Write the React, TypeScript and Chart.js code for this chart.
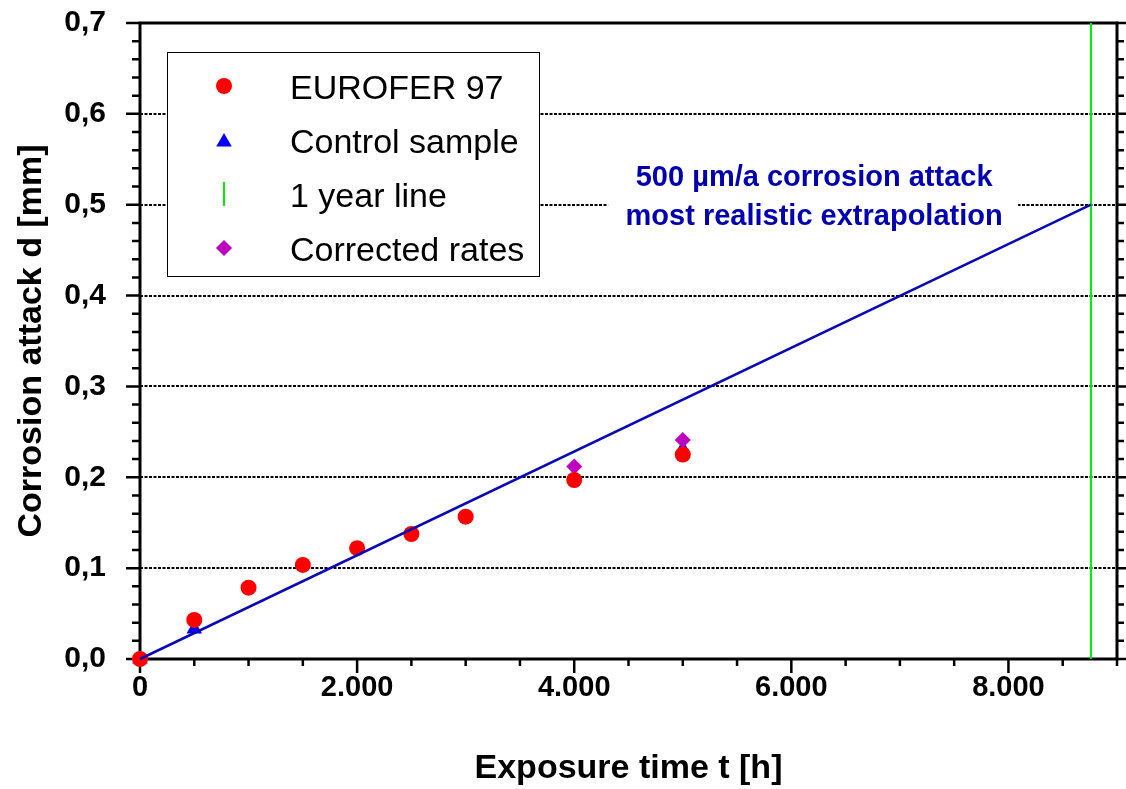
import React, { useEffect, useRef } from 'react';
import { Chart, registerables } from 'chart.js';

Chart.register(...registerables);

// Measured corrosion attack of EUROFER 97 over exposure time
const exposureHours = [0, 500, 1000, 1500, 2000, 2500, 3000, 4000, 5000];
const euroferAttack = [0, 0.043, 0.0785, 0.1035, 0.122, 0.1376, 0.1566, 0.197, 0.225];

// Control sample
const controlHours = [0, 500, 5000];
const controlAttack = [0, 0.033, 0.231];

// Corrected rates
const correctedHours = [4000, 5000];
const correctedAttack = [0.212, 0.241];

// One year of exposure and the 500 µm/a extrapolation reaching 0.5 mm after it
const oneYearHours = 8760;
const extrapolationHours = [0, 8760];
const extrapolationAttack = [0, 0.5];

// Axis ticks
const xTickValues = [0, 2000, 4000, 6000, 8000];
const yTickValues = [0, 0.1, 0.2, 0.3, 0.4, 0.5, 0.6, 0.7];
const yGridValues = [0.1, 0.2, 0.3, 0.4, 0.5, 0.6];
const xMinorStep = 500;
const yMinorStep = 0.02;

const annotationLines = ['500 µm/a corrosion attack', 'most realistic extrapolation'];
const annotationCenterHours = 6210;

const FONT = '"Liberation Sans", Arial, sans-serif';
const LINE_BLUE = '#0a0ab4';
const TEXT_BLUE = '#0000b0';

const toPoints = (xs: number[], ys: number[]) => xs.map((x, i) => ({ x, y: ys[i] }));

const formatThousands = (v: number) =>
  String(Math.round(v)).replace(/\B(?=(\d{3})+(?!\d))/g, '.');

const framePlugin = {
  id: 'frameAndGrid',
  beforeDatasetsDraw(chart: any) {
    const { ctx, chartArea, scales } = chart;
    const { left, right, top, bottom } = chartArea;
    const x = scales.x;
    const y = scales.y;
    ctx.save();

    // dotted horizontal grid
    ctx.strokeStyle = '#000';
    ctx.lineWidth = 2;
    ctx.setLineDash([3, 1.5]);
    yGridValues.forEach((v) => {
      const py = Math.round(y.getPixelForValue(v));
      ctx.beginPath();
      ctx.moveTo(left, py);
      ctx.lineTo(right, py);
      ctx.stroke();
    });
    ctx.setLineDash([]);

    // annotation with white background
    const cx = x.getPixelForValue(annotationCenterHours);
    ctx.fillStyle = '#fff';
    ctx.fillRect(cx - 206, 158, 410, 80);
    ctx.font = `bold 29px ${FONT}`;
    ctx.fillStyle = TEXT_BLUE;
    ctx.textAlign = 'center';
    ctx.textBaseline = 'alphabetic';
    ctx.fillText(annotationLines[0], cx, 186);
    ctx.fillText(annotationLines[1], cx, 225);

    // frame
    ctx.strokeStyle = '#000';
    ctx.lineWidth = 3;
    ctx.beginPath();
    ctx.moveTo(left, top);
    ctx.lineTo(right, top);
    ctx.lineTo(right, bottom);
    ctx.lineTo(left, bottom);
    ctx.closePath();
    ctx.stroke();

    // ticks
    ctx.lineWidth = 2.5;
    ctx.beginPath();
    const xMax = x.max;
    for (let v = 0; v <= xMax + 1e-6; v += xMinorStep) {
      const px = x.getPixelForValue(v);
      const major = xTickValues.includes(v);
      ctx.moveTo(px, bottom);
      ctx.lineTo(px, bottom + (major ? 14 : 7));
    }
    const steps = Math.round(y.max / yMinorStep);
    for (let i = 0; i <= steps; i++) {
      const v = i * yMinorStep;
      const py = y.getPixelForValue(v);
      const major = i % 5 === 0;
      ctx.moveTo(left, py);
      ctx.lineTo(left - (major ? 14 : 8), py);
      ctx.moveTo(right, py);
      ctx.lineTo(right + (major ? 10 : 7), py);
    }
    ctx.stroke();
    ctx.restore();
  },
  afterDraw(chart: any) {
    const { ctx } = chart;
    ctx.save();
    // legend box
    const bx = 167, by = 52, bw = 372, bh = 224;
    ctx.fillStyle = '#fff';
    ctx.fillRect(bx, by, bw, bh);
    ctx.strokeStyle = '#000';
    ctx.lineWidth = 1;
    ctx.strokeRect(bx + 0.5, by + 0.5, bw, bh);

    const entries = chart.data.datasets
      .filter((d: any) => d.legendOrder !== undefined)
      .sort((a: any, b: any) => a.legendOrder - b.legendOrder);
    const markerX = 224;
    const textX = 290;
    const baselines = [99, 153, 207, 261];
    ctx.font = `34px ${FONT}`;
    ctx.textAlign = 'left';
    ctx.textBaseline = 'alphabetic';
    entries.forEach((d: any, i: number) => {
      const base = baselines[i];
      const my = base - 13;
      if (d.legendMarker === 'vline') {
        ctx.strokeStyle = d.borderColor;
        ctx.lineWidth = 2;
        ctx.beginPath();
        ctx.moveTo(markerX, my - 12);
        ctx.lineTo(markerX, my + 12);
        ctx.stroke();
      } else {
        ctx.fillStyle = d.pointBackgroundColor;
        const r = d.pointRadius;
        ctx.beginPath();
        if (d.pointStyle === 'circle') {
          ctx.arc(markerX, my, r, 0, Math.PI * 2);
        } else if (d.pointStyle === 'triangle') {
          const cy = my + 2;
          ctx.moveTo(markerX, cy - r);
          ctx.lineTo(markerX + r * Math.sin((2 * Math.PI) / 3), cy - r * Math.cos((2 * Math.PI) / 3));
          ctx.lineTo(markerX + r * Math.sin((4 * Math.PI) / 3), cy - r * Math.cos((4 * Math.PI) / 3));
          ctx.closePath();
        } else if (d.pointStyle === 'rectRot') {
          ctx.moveTo(markerX - r, my);
          ctx.lineTo(markerX, my - r);
          ctx.lineTo(markerX + r, my);
          ctx.lineTo(markerX, my + r);
          ctx.closePath();
        }
        ctx.fill();
      }
      ctx.fillStyle = '#000';
      ctx.fillText(d.label, textX, base);
    });
    ctx.restore();
  },
};

export default function App() {
  const canvasRef = useRef<HTMLCanvasElement | null>(null);

  useEffect(() => {
    const canvas = canvasRef.current;
    if (!canvas) return;
    const chart = new Chart(canvas, {
      type: 'scatter',
      data: {
        datasets: [
          {
            label: 'extrapolation',
            type: 'line',
            data: toPoints(extrapolationHours, extrapolationAttack),
            borderColor: LINE_BLUE,
            borderWidth: 2.5,
            pointRadius: 0,
            showLine: true,
            clip: false,
            order: 0,
          } as any,
          {
            label: 'EUROFER 97',
            data: toPoints(exposureHours, euroferAttack),
            pointStyle: 'circle',
            pointRadius: 8,
            pointBackgroundColor: '#ff0000',
            pointBorderWidth: 0,
            borderColor: '#ff0000',
            clip: false,
            order: 1,
            legendOrder: 0,
          } as any,
          {
            label: 'Corrected rates',
            data: toPoints(correctedHours, correctedAttack),
            pointStyle: 'rectRot',
            pointRadius: 8,
            pointBackgroundColor: '#bf00bf',
            pointBorderWidth: 0,
            borderColor: '#bf00bf',
            clip: false,
            order: 2,
            legendOrder: 3,
          } as any,
          {
            label: 'Control sample',
            data: toPoints(controlHours, controlAttack),
            pointStyle: 'triangle',
            pointRadius: 9,
            pointBackgroundColor: '#0000ff',
            pointBorderWidth: 0,
            borderColor: '#0000ff',
            clip: false,
            order: 3,
            legendOrder: 1,
          } as any,
          {
            label: '1 year line',
            type: 'line',
            data: [
              { x: oneYearHours, y: 0 },
              { x: oneYearHours, y: 0.7 },
            ],
            borderColor: '#00ee00',
            borderWidth: 2,
            pointRadius: 0,
            showLine: true,
            order: 4,
            legendOrder: 2,
            legendMarker: 'vline',
          } as any,
        ],
      },
      options: {
        responsive: false,
        animation: false,
        events: [],
        layout: { padding: { left: 0, right: 9, top: 23, bottom: 0 } },
        plugins: {
          legend: { display: false },
          tooltip: { enabled: false },
        },
        scales: {
          x: {
            type: 'linear',
            min: 0,
            max: 9000,
            grid: { display: false, drawTicks: false },
            border: { display: false },
            afterBuildTicks: (scale: any) => {
              scale.ticks = xTickValues.map((value) => ({ value }));
            },
            afterFit: (scale: any) => {
              scale.height = 130;
              scale.paddingLeft = 0;
              scale.paddingRight = 0;
            },
            ticks: {
              padding: 12,
              color: '#000',
              maxRotation: 0,
              autoSkip: false,
              font: { family: FONT, size: 29, weight: 'bold' },
              callback: (v: any) => formatThousands(Number(v)),
            },
            title: {
              display: true,
              text: 'Exposure time t [h]',
              color: '#000',
              font: { family: FONT, size: 34, weight: 'bold' },
              padding: { top: 0, bottom: 0 },
            },
          },
          y: {
            type: 'linear',
            min: 0,
            max: 0.7,
            grid: { display: false, drawTicks: false },
            border: { display: false },
            afterBuildTicks: (scale: any) => {
              scale.ticks = yTickValues.map((value) => ({ value }));
            },
            afterFit: (scale: any) => {
              scale.width = 140;
              scale.paddingTop = 0;
              scale.paddingBottom = 0;
            },
            ticks: {
              padding: 34,
              color: '#000',
              autoSkip: false,
              font: { family: FONT, size: 30, weight: 'bold' },
              callback: (v: any) => Number(v).toFixed(1).replace('.', ','),
            },
            title: {
              display: true,
              text: 'Corrosion attack d [mm]',
              color: '#000',
              font: { family: FONT, size: 34, weight: 'bold' },
              padding: { top: 11, bottom: 0 },
            },
          },
        },
      } as any,
      plugins: [framePlugin],
    });
    return () => chart.destroy();
  }, []);

  return (
    <div style={{ position: 'absolute', left: 0, top: 0, width: 1126, height: 789, background: '#fff' }}>
      <canvas ref={canvasRef} width={1126} height={789} style={{ width: 1126, height: 789, display: 'block' }} />
    </div>
  );
}
